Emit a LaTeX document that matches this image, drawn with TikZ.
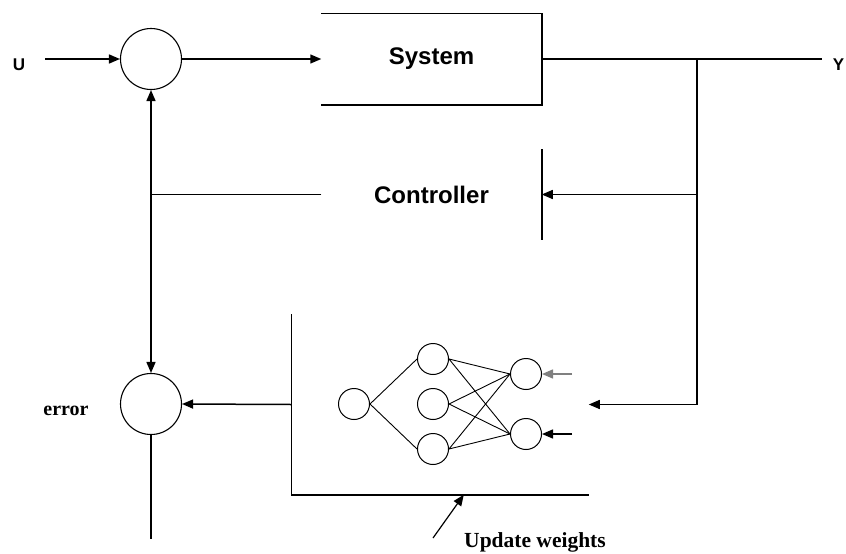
\documentclass[tikz,border=0pt]{standalone}
\usepackage{fontspec}
\setmainfont{Liberation Serif}
\newfontfamily\arialfont{Liberation Sans}
\usepackage{tikz}
\usetikzlibrary{arrows.meta, positioning, calc}

\begin{document}
\begin{tikzpicture}[x=1pt, y=-1pt,
    line width=1.5pt,
    >={Triangle[length=11pt, width=9pt]},
    sumnode/.style={draw, circle, minimum size=61pt, inner sep=0pt, line width=1.1pt},
    neuron/.style={draw, circle, minimum size=31pt, inner sep=0pt, line width=1pt},
    blocktxt/.style={font=\arialfont\bfseries\fontsize{24}{28}\selectfont, inner sep=0pt},
    sigtxt/.style={font=\arialfont\bfseries\fontsize{17}{20}\selectfont},
    notetxt/.style={font=\bfseries\fontsize{21.5}{25}\selectfont, inner sep=0pt}]
    \useasboundingbox (0,0) rectangle (846,554);
    % summing points
    \node[sumnode] (sum1) at (151,59) {};
    \node[sumnode] (err) at (151,404) {};
    \node[notetxt, font=\bfseries\fontsize{20}{24}\selectfont] (errlbl) at (66,411) {error};
    % system and controller blocks (open sides)
    \node[blocktxt, minimum width=219pt, minimum height=90pt] (sys) at (431.5,59) {System};
    \draw (sys.north west) -- (sys.north east) -- (sys.south east) -- (sys.south west);
    \node[blocktxt, minimum width=219pt, minimum height=89pt] (ctrl) at (431.5,194.5) {Controller};
    \draw (ctrl.north east) -- (ctrl.south east);
    % network block
    \node[minimum width=296pt, minimum height=179pt, inner sep=0pt] (nnbox) at (440,404.5) {};
    \draw (nnbox.north west) -- (nnbox.south west) -- (nnbox.south east);
    % input and output signals
    \node[sigtxt] (uin) at (19,65) {U};
    \node[sigtxt, anchor=west, inner sep=0pt] (yout) at (832,65) {Y};
    \draw[->, shorten <=16pt] (uin.east |- sum1) -- (sum1.west);
    \draw[->] (sum1.east) -- (sys.west);
    \coordinate (br1) at (697,59);
    \draw (sys.east) -- ([xshift=-10pt]yout.west |- sys.east);
    \draw (br1) -- (br1 |- nnbox.east);
    \draw[->] (br1 |- ctrl.east) -- (ctrl.east);
    \draw[->] (br1 |- nnbox.east) -- (nnbox.east);
    % feedback path
    \coordinate (jn) at (ctrl.west -| sum1);
    \draw (ctrl.west) -- (jn);
    \draw[->] (jn) -- (sum1.south);
    \draw[->] (jn) -- (err.north);
    \draw[->] (nnbox.west) -- (err.east);
    \coordinate (errout) at (151,539);
    \draw (err.south) -- (errout);
    % neural network
    \node[neuron] (n0) at (354,404) {};
    \foreach \k/\yy in {1/359, 2/404, 3/449} {
        \node[neuron] (h\k) at (433,\yy) {};
    }
    \node[neuron] (o1) at (526,374) {};
    \node[neuron] (o2) at (526,434) {};
    \draw[line width=0.9pt] (h1.west) -- (n0.east) -- (h3.west);
    \foreach \k in {1,2,3} {
        \draw[line width=0.9pt] (h\k.east) -- (o1.west);
        \draw[line width=0.9pt] (h\k.east) -- (o2.west);
    }
    \coordinate (in1) at (572,374);
    \coordinate (in2) at (572,434);
    \draw[->, draw=black!50] (in1) -- (o1.east);
    \draw[->] (in2) -- (o2.east);
    % weight update
    \node[notetxt] (upd) at (535,542) {Update weights};
    \coordinate (updtail) at (433,538);
    \coordinate (updtip) at ($(nnbox.south west)!0.58!(nnbox.south east)$);
    \draw[->, line width=1.2pt] (updtail) -- (updtip);
\end{tikzpicture}
\end{document}
